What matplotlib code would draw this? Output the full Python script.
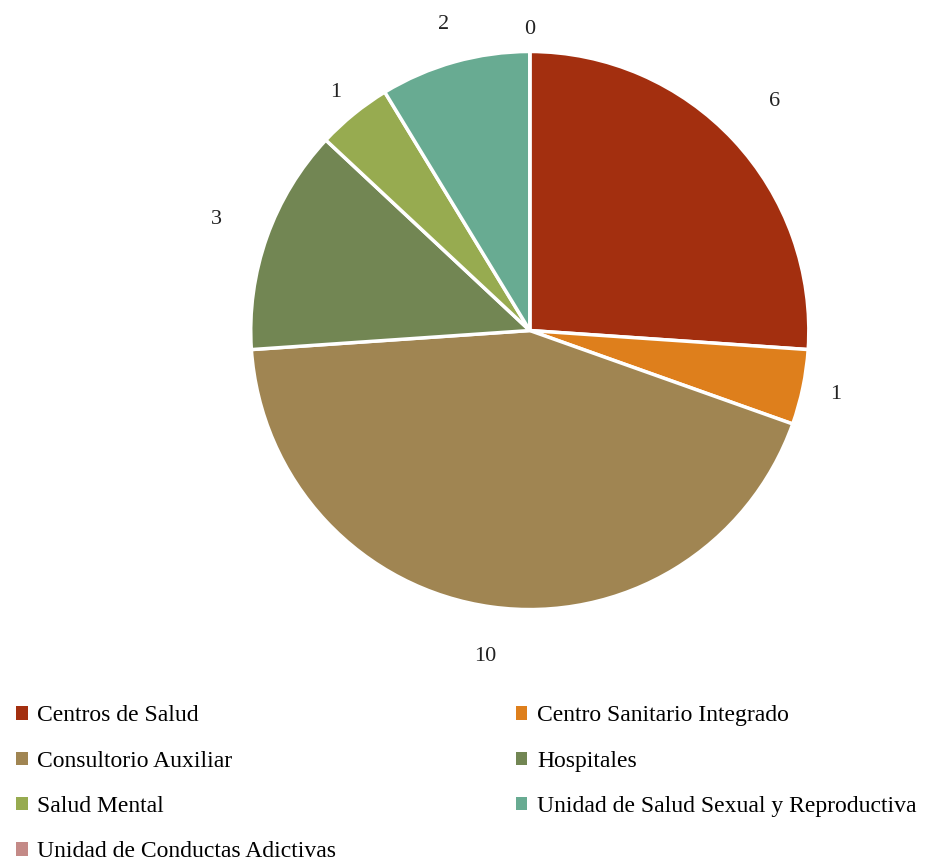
import matplotlib.pyplot as plt
import numpy as np
from matplotlib.patches import Patch

# Data
categories = ['Centros de Salud', 'Centro Sanitario Integrado', 'Consultorio Auxiliar',
              'Hospitales', 'Salud Mental', 'Unidad de Salud Sexual y Reproductiva',
              'Unidad de Conductas Adictivas']
values = [6, 1, 10, 3, 1, 2, 0]
colors = ['#A32F0F', '#DE7F1C', '#A08552', '#728653', '#97AB50', '#68AB92', '#C48A87']

# distance of each value label from the centre (in radii)
label_dist = [1.2, 1.12, 1.18, 1.19, 1.1, 1.14, 1.08]

plt.rcParams['font.family'] = ['Liberation Serif', 'DejaVu Serif']

fig = plt.figure(figsize=(9.36, 8.63), dpi=100)
ax = fig.add_axes([0.208, 0.229, 0.716, 0.776])

wedges, _ = ax.pie(values, colors=colors, startangle=90, counterclock=False,
                   wedgeprops=dict(edgecolor='white', linewidth=2.5))
ax.set_xlim(-1.2, 1.2)
ax.set_ylim(-1.2, 1.2)
ax.set_aspect('equal')
ax.axis('off')

# value labels outside the wedges
for w, v, d in zip(wedges, values, label_dist):
    ang = np.deg2rad((w.theta1 + w.theta2) / 2)
    ax.text(d * np.cos(ang), d * np.sin(ang), str(v), ha='center', va='center',
            fontsize=16, color='#222222')

# legend, filled row by row
handles = [Patch(facecolor=c, edgecolor='none') for c in colors]
order = [0, 2, 4, 6, 1, 3, 5]
fig.legend([handles[i] for i in order], [categories[i] for i in order],
           loc='upper left', bbox_to_anchor=(0.007, 0.1935), ncol=2, frameon=False,
           fontsize=17, handlelength=0.5, handleheight=0.5, handletextpad=0.4,
           labelspacing=1.03, columnspacing=7.6, borderaxespad=0)

fig.savefig('out.png', dpi=100)
